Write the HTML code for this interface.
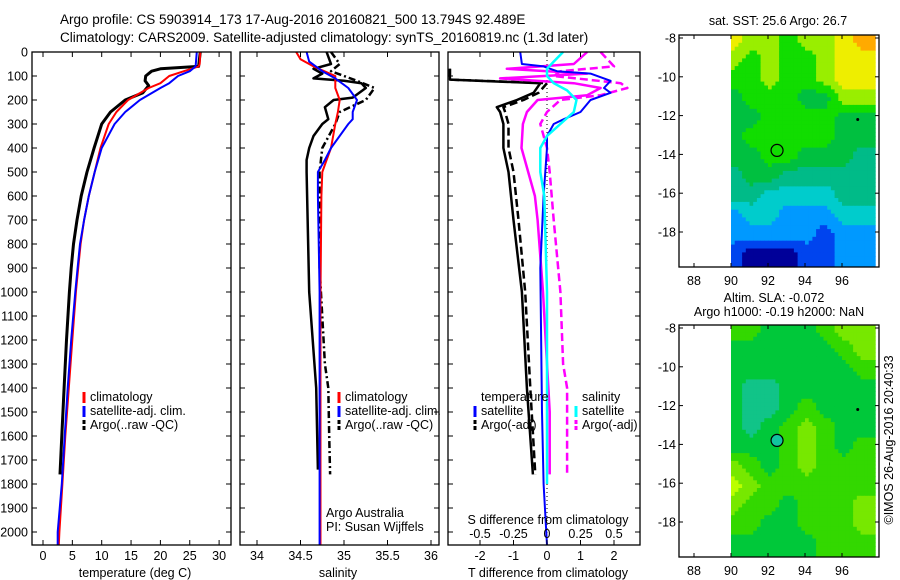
<!DOCTYPE html>
<html><head><meta charset="utf-8"><style>
html,body{margin:0;padding:0;background:#fff;}
svg{display:block;font-family:"Liberation Sans",sans-serif;}
text{font-size:12.5px;fill:#000;}
</style></head><body>
<svg id="fig" width="900" height="580" viewBox="0 0 900 580">
<text x="60" y="24" style="font-size:13.5px">Argo profile: CS 5903914_173 17-Aug-2016 20160821_500 13.794S 92.489E</text>
<text x="60" y="42" style="font-size:13.5px">Climatology: CARS2009. Satellite-adjusted climatology: synTS_20160819.nc (1.3d later)</text>
<g id="g1"></g>
<g id="g2"></g>
<g id="g3"></g>
<g id="m1"></g>
<g id="m2"></g>
<text transform="translate(893,440) rotate(-90)" text-anchor="middle">©IMOS 26-Aug-2016 20:40:33</text>
</svg>
<script>
// ---- temperature panel data ----
const tClimDepth=[0,50,60,80,100,130,150,200,250,300,400,500,600,700,800,900,1000,1200,1400,1600,1800,2000,2054];
const tClimVal=[26.8,26.7,26.5,24,21.5,20,18,14.5,12.5,11.2,9.8,8.8,7.8,7,6.4,6,5.6,5,4.4,3.8,3.3,2.8,2.7];
const tSatDepth=[0,60,80,100,130,150,200,250,300,400,500,600,700,800,900,1000,1200,1400,1600,1800,2000,2054];
const tSatVal=[26.2,26,25,23,21.5,20,16.5,14,12.2,10,8.8,7.8,7,6.3,5.9,5.5,4.8,4.2,3.7,3.2,2.5,2.5];
const tArgoDepth=[0,60,70,80,100,120,140,170,200,250,300,400,500,600,700,800,900,1000,1200,1400,1600,1760];
const tArgoVal=[26.8,26.5,20,18.5,17.5,17.4,18,17,14,11.5,10,8.7,7.5,6.5,5.8,5.2,4.8,4.5,4.0,3.6,3.2,2.9];
// ---- salinity panel data ----
const sClimDepth=[0,30,60,100,150,200,250,300,400,450,500,600,1000,2054];
const sClimVal=[34.45,34.5,34.65,34.9,34.9,34.95,34.93,34.9,34.85,34.8,34.75,34.74,34.73,34.73];
const sSatDepth=[0,40,80,110,150,200,250,280,300,400,450,500,600,1000,2054];
const sSatVal=[34.57,34.6,34.75,34.9,35.05,35.15,35.1,35.1,35.05,34.85,34.78,34.7,34.7,34.72,34.72];
const sArgoDepth=[0,50,70,90,110,120,130,150,190,200,230,280,300,350,400,450,500,1000,1400,1740];
const sArgoVal=[34.8,34.85,34.65,34.75,34.65,35.0,35.2,35.25,35.1,34.88,34.78,34.82,34.75,34.65,34.6,34.57,34.57,34.6,34.68,34.7];
const sRawDepth=[0,50,80,120,150,200,250,300,400,500,900,1300,1400,1600,1760];
const sRawVal=[34.85,34.95,34.85,35.15,35.35,35.25,34.95,34.9,34.75,34.72,34.72,34.78,34.82,34.83,34.84];
// ---- difference panel data ----
const dTArgoDepth=[70,80,100,115,130,170,200,230,250,300,400,500,700,1000,1400,1760];
const dTArgoVal=[-2.9,-2.9,-2.9,-2.9,-0.2,-0.4,-0.9,-1.5,-1.4,-1.3,-1.3,-1.15,-1.0,-0.75,-0.6,-0.42];
const dTRawDepth=[70,80,100,115,130,170,200,230,250,300,400,500,700,1000,1400,1760];
const dTRawVal=[-2.9,-2.9,-2.9,-2.9,0.0,-0.25,-0.7,-1.3,-1.25,-1.15,-1.15,-1.0,-0.85,-0.65,-0.5,-0.35];
const dTSatDepth=[0,50,60,80,90,120,150,170,200,250,280,300,350,400,600,900,1500,1800,2054];
const dTSatVal=[-0.8,-0.75,-0.1,0.3,1.3,1.9,1.7,1.9,1.3,1.0,0.5,0.2,0,0,-0.1,-0.2,-0.15,-0.1,0];
const dSSatDepth=[0,40,70,100,130,160,200,250,300,350,400,500,600,1000,1800];
const dSSatVal=[0.12,0.05,0,0,0.05,0.15,0.22,0.2,0.1,0,-0.05,-0.05,-0.02,0,0];
const dSArgoDepth=[0,50,70,90,110,130,150,180,200,250,300,400,500,600,700,1000,1500,1760];
const dSArgoVal=[0.3,0.2,-0.3,0.3,-0.35,0.2,0.4,0.3,-0.07,-0.15,-0.18,-0.19,-0.14,-0.09,-0.07,-0.03,0.02,0.02];
const dSRawDepth=[0,60,80,100,130,150,180,200,250,300,400,500,700,1000,1300,1400,1760];
const dSRawVal=[0.4,0.5,0.1,0.05,0.55,0.6,0.4,0.1,0,-0.05,0,0.02,0.05,0.1,0.12,0.15,0.15];
// ---- ticks ----
const depthTicks=[0,100,200,300,400,500,600,700,800,900,1000,1100,1200,1300,1400,1500,1600,1700,1800,1900,2000];
const tempTicks=[0,5,10,15,20,25,30];
const salTicks=[34,34.5,35,35.5,36];
const tDiffTicks=[-2,-1,0,1,2];
const sDiffTicks=[-0.5,-0.25,0,0.25,0.5];
const latTicks=[-8,-10,-12,-14,-16,-18];
const lonTicks=[88,90,92,94,96];
// ---- maps (1-degree nodes, lat rows from -8 southward, lon cols from 90) ----
const sstGrid=[[8,7,7,6,7,7,8,9],[7,6,7,6,6,7,8,8],[6,6,7,6,6,7,8,8],[5,6,6,6,5,5,7,7],[5,5,6,6,6,6,5,5],[5,6,6,6,6,6,5,5],[5,5,6,6,5,5,5,4],[4,5,5,4,4,4,4,4],[4,4,3,3,3,3,4,4],[2,3,3,2,2,2,3,3],[2,2,2,2,2,1,2,2],[1,0,0,0,1,1,2,2]];
const slaGrid=[[6,6,5,5,5,6,7,7],[5,5,5,5,5,5,6,7],[5,5,5,5,5,5,5,6],[5,4,4,5,5,5,5,5],[5,4,4,5,6,5,5,5],[5,4,5,6,7,6,5,5],[5,5,5,6,7,6,5,6],[7,6,5,6,7,6,6,6],[8,7,6,6,6,6,6,6],[7,6,6,5,6,6,6,7],[6,6,5,5,6,6,6,7],[5,5,5,5,5,6,6,6]];
const sstColors=['#000099','#0044ee','#0099ff','#00cccc','#00bb88','#00c040','#11dd00','#99ee00','#eeee00','#ffaa00'];
const slaColors=['','','','','#11c488','#00c83a','#33d800','#77e800','#bbff00'];

const NS='http://www.w3.org/2000/svg';
function mk(parent,tag,attrs){const e=document.createElementNS(NS,tag);for(const k in attrs)e.setAttribute(k,attrs[k]);parent.appendChild(e);return e;}
const Y0=52,Y1=545;
const yD=d=>52+d*0.24;
function line(g,depths,vals,xf,color,w,dash,name){
  const pts=depths.map((d,i)=>xf(vals[i]).toFixed(1)+','+yD(d).toFixed(1)).join(' ');
  const p=mk(g,'polyline',{points:pts,fill:'none',stroke:color,'stroke-width':w,'stroke-linejoin':'round'});
  if(dash)p.setAttribute('stroke-dasharray',dash);
  
  
}
function frame(g,x0,x1,name){
  const r=mk(g,'rect',{x:x0,y:Y0,width:x1-x0,height:Y1-Y0,fill:'none',stroke:'#000','stroke-width':1.3});
  
  
}
function xTicks(g,ticks,xf,yLab,fmt,top){
  ticks.forEach(t=>{const x=xf(t);
    mk(g,'line',{x1:x,x2:x,y1:Y1,y2:Y1-5,stroke:'#000'});
    if(top)mk(g,'line',{x1:x,x2:x,y1:Y0,y2:Y0+5,stroke:'#000'});
    if(yLab){const tx=mk(g,'text',{x:x,y:yLab,'text-anchor':'middle'});tx.textContent=fmt?fmt(t):t;
      
      }
  });
}
function yTicks(g,x0,x1,labels){
  depthTicks.forEach(d=>{const y=yD(d);
    mk(g,'line',{x1:x0,x2:x0+5,y1:y,y2:y,stroke:'#000'});
    mk(g,'line',{x1:x1,x2:x1-5,y1:y,y2:y,stroke:'#000'});
    if(labels){const t=mk(g,'text',{x:28,y:y+4.5,'text-anchor':'end'});t.textContent=d;
      
      }
  });
}
function legend(g,x,y,items){
  items.forEach((it,i)=>{const yy=y+i*14;
    const m=mk(g,'line',{x1:x,x2:x,y1:yy-5,y2:yy+6,stroke:it[1],'stroke-width':3});
    if(it[2])m.setAttribute('stroke-dasharray',it[2]);
    const t=mk(g,'text',{x:x+6,y:yy+4});t.textContent=it[0];
    
    
  });
}
function label(g,x,y,s,name,anchor){const t=mk(g,'text',{x:x,y:y,'text-anchor':anchor||'middle'});t.textContent=s;
  
  return t;}

// Panel 1
const g1=document.getElementById('g1');
const xT=v=>43+v*5.87;
line(g1,tArgoDepth,tArgoVal,xT,'#000',3,null,'temp-argo-line');
line(g1,tClimDepth,tClimVal,xT,'#f00',2,null,'temp-climatology-line');
line(g1,tSatDepth,tSatVal,xT,'#00f',2,null,'temp-satellite-line');
frame(g1,32,231,'temperature-frame');
yTicks(g1,32,231,true);
xTicks(g1,tempTicks,xT,560,null,true);
label(g1,135,577,'temperature (deg C)','temperature-axis-title');
legend(g1,84,397,[['climatology','#f00'],['satellite-adj. clim.','#00f'],['Argo(..raw -QC)','#000','4,2']]);

// Panel 2
const g2=document.getElementById('g2');
const xS=v=>257+(v-34)*87;
line(g2,sRawDepth,sRawVal,xS,'#000',2.5,'7,3,2,3','sal-argo-raw-line');
line(g2,sArgoDepth,sArgoVal,xS,'#000',2.5,null,'sal-argo-line');
line(g2,sClimDepth,sClimVal,xS,'#f00',2,null,'sal-climatology-line');
line(g2,sSatDepth,sSatVal,xS,'#00f',2,null,'sal-satellite-line');
frame(g2,240,439,'salinity-frame');
yTicks(g2,240,439,false);
xTicks(g2,salTicks,xS,560,null,true);
label(g2,338,577,'salinity','salinity-axis-title');
legend(g2,339,397,[['climatology','#f00'],['satellite-adj. clim.','#00f'],['Argo(..raw -QC)','#000','4,2']]);
label(g2,326,517,'Argo Australia','argo-australia-label','start');
label(g2,326,531,'PI: Susan Wijffels','pi-label','start');

// Panel 3
const g3=document.getElementById('g3');
const xDT=v=>547+v*33.5, xDS=v=>547+v*134;
const dot=mk(g3,'line',{x1:547,x2:547,y1:Y0,y2:Y1,stroke:'#000','stroke-dasharray':'1,3'});


line(g3,dTRawDepth,dTRawVal,xDT,'#000',2.5,'8,4','tdiff-argo-raw-line');
line(g3,dTArgoDepth,dTArgoVal,xDT,'#000',2.5,null,'tdiff-argo-line');
line(g3,dSRawDepth,dSRawVal,xDS,'#f0f',2.5,'8,4','sdiff-argo-raw-line');
line(g3,dSArgoDepth,dSArgoVal,xDS,'#f0f',2.5,null,'sdiff-argo-line');
line(g3,dTSatDepth,dTSatVal,xDT,'#00f',2,null,'tdiff-satellite-line');
line(g3,dSSatDepth,dSSatVal,xDS,'#0ff',2.5,null,'sdiff-satellite-line');
frame(g3,448,640,'difference-frame');
yTicks(g3,448,640,false);
xTicks(g3,tDiffTicks,xDT,560,v=>v,true);
xTicks(g3,sDiffTicks,xDS,538,v=>v,false);
label(g3,548,524,'S difference from climatology','s-diff-axis-title');
label(g3,548,577,'T difference from climatology','t-diff-axis-title');
label(g3,481,401,'temperature','temp-legend-title','start');
label(g3,582,401,'salinity','sal-legend-title','start');
legend(g3,475,411,[['satellite','#00f'],['Argo(-adj)','#000','4,2']]);
legend(g3,576,411,[['satellite','#0ff'],['Argo(-adj)','#f0f','4,2']]);

// Maps
function sample(grid,r,c){
  r=Math.max(0,Math.min(11,r));c=Math.max(0,Math.min(7,c));
  const r0=Math.floor(r),c0=Math.floor(c),r1=Math.min(11,r0+1),c1=Math.min(7,c0+1),fr=r-r0,fc=c-c0;
  return (grid[r0][c0]*(1-fr)+grid[r1][c0]*fr)*(1-fc)+(grid[r0][c1]*(1-fr)+grid[r1][c1]*fr)*fc;
}
function drawMap(gid,top,grid,colors,title1,title2,mname,lo,hi){
  const g=document.getElementById(gid);
  const xL=v=>694+(v-88)*18.5, yL=v=>top+3+(-8-v)*19.4;
  const bottom=top+232, step=0.2;
  for(let lat=-8+0.15;lat>-19.9;lat-=step){
    for(let lon=90;lon<97.8-1e-6;lon+=step){
      const v=sample(grid,-8-lat-0.5+0.5,lon-90.0);
      const idx=Math.max(lo,Math.min(hi,Math.round(v)));
      const x=xL(lon), y=Math.max(top,yL(lat));
      const y2=Math.min(bottom,yL(lat-step));
      const rc=mk(g,'rect',{x:x.toFixed(1),y:y.toFixed(1),width:(step*18.5+0.4).toFixed(1),height:(y2-y+0.4).toFixed(1),fill:colors[idx]});
      
      
    }
  }
  const fr=mk(g,'rect',{x:679,y:top,width:200,height:232,fill:'none',stroke:'#000','stroke-width':1.3});
  
  
  latTicks.forEach(v=>{const y=yL(v);
    mk(g,'line',{x1:679,x2:683,y1:y,y2:y,stroke:'#000'});mk(g,'line',{x1:879,x2:875,y1:y,y2:y,stroke:'#000'});
    label(g,676,y+4.5,String(v),'lat-tick-label','end');});
  lonTicks.forEach(v=>{const x=xL(v);
    mk(g,'line',{x1:x,x2:x,y1:top,y2:top+4,stroke:'#000'});mk(g,'line',{x1:x,x2:x,y1:top+232,y2:top+228,stroke:'#000'});
    label(g,x,top+250,String(v),'lon-tick-label');});
  const c=mk(g,'circle',{cx:xL(92.489),cy:yL(-13.794),r:6,fill:gid==='m2'?'#11c4a0':'none',stroke:'#000','stroke-width':1.2});
  
  
  mk(g,'circle',{cx:xL(96.85),cy:yL(-12.2),r:1.5,fill:'#000'});
  if(title2){label(g,774,top-23,title1,mname+'-title');label(g,779,top-9,title2,mname+'-subtitle');}
  else label(g,778,top-10,title1,mname+'-title');
}
drawMap('m1',35,sstGrid,sstColors,'sat. SST: 25.6 Argo: 26.7',null,'sst-map',0,9);
drawMap('m2',325,slaGrid,slaColors,'Altim. SLA: -0.072','Argo h1000: -0.19 h2000: NaN','sla-map',4,8);
</script>
</body></html>
